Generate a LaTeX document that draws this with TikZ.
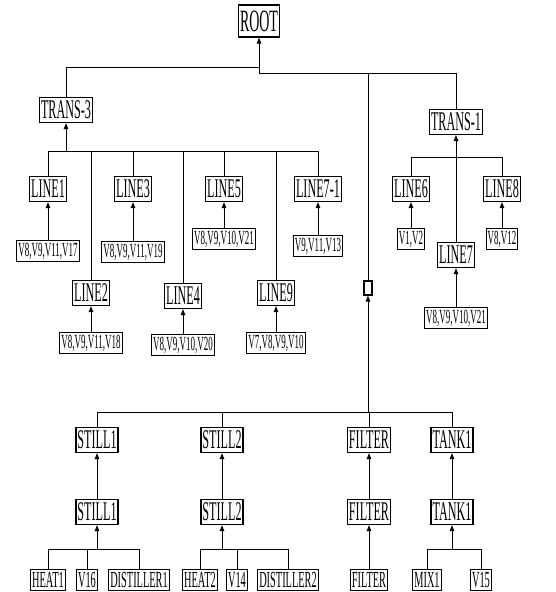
\documentclass[tikz,border=0pt]{standalone}
\usepackage{fontspec}
\setmainfont{Liberation Serif}[FakeStretch=0.45]
\usetikzlibrary{arrows.meta}

\tikzset{
  unit/.style={draw, line width=1.2pt, inner xsep=1.5pt, inner ysep=1pt,
               font=\fontsize{27}{27}\selectfont, minimum height=25pt},
  rootbox/.style={unit, font=\fontsize{31}{31}\selectfont, minimum height=32pt},
  varbox/.style={unit, font=\fontsize{20}{20}\selectfont, minimum height=21pt},
  leafbox/.style={unit, inner ysep=0.5pt, font=\fontsize{23}{23}\selectfont,
                  minimum height=21pt},
  wire/.style={line width=1pt},
  toarr/.style={wire, -{Triangle[length=6pt,width=4.5pt]}}
}

\begin{document}
\begin{tikzpicture}[x=1pt, y=-1pt]
  \useasboundingbox (0,0) rectangle (555,592);

  % --- racine et les deux transferts ------------------------------------
  \node[rootbox] (root) at (259,21) {ROOT};
  \node[unit] (trans3) at (66,110) {TRANS-3};
  \node[unit] (trans1) at (456,122) {TRANS-1};
  \coordinate (b0l) at (259,67);
  \coordinate (b0r) at (259,73);
  \draw[toarr] (b0r) -- (root);
  \draw[wire] (trans3.north) |- (b0l);
  \draw[wire] (trans1.north) |- (b0r);

  % --- lignes sous TRANS-3 ----------------------------------------------
  \node[unit] (line1)  at (48,189)  {LINE1};
  \node[unit] (line3)  at (133,189) {LINE3};
  \node[unit] (line5)  at (224,189) {LINE5};
  \node[unit] (line71) at (318,189) {LINE7-1};
  \node[unit] (line2)  at (91,293)  {LINE2};
  \node[unit] (line4)  at (183,296) {LINE4};
  \node[unit] (line9)  at (276,293) {LINE9};
  \coordinate (b3) at (66,151);
  \draw[toarr] (b3) -- (trans3);
  \foreach \n in {line1, line2, line3, line4, line5, line9, line71}
    \draw[wire] (\n.north) |- (b3);

  % --- variables des lignes ---------------------------------------------
  \node[varbox] (d1)  at (48,251)  {V8,V9,V11,V17};
  \node[varbox] (d3)  at (133,252) {V8,V9,V11,V19};
  \node[varbox] (d5)  at (224,239) {V8,V9,V10,V21};
  \node[varbox] (d71) at (318,246) {V9,V11,V13};
  \node[varbox] (d2)  at (91,343)  {V8,V9,V11,V18};
  \node[varbox] (d4)  at (183,345) {V8,V9,V10,V20};
  \node[varbox] (d9)  at (276,343) {V7,V8,V9,V10};
  \draw[toarr] (d1) -- (line1);
  \draw[toarr] (d3) -- (line3);
  \draw[toarr] (d5) -- (line5);
  \draw[toarr] (d71) -- (line71);
  \draw[toarr] (d2) -- (line2);
  \draw[toarr] (d4) -- (line4);
  \draw[toarr] (d9) -- (line9);

  % --- lignes sous TRANS-1 ----------------------------------------------
  \node[unit] (line6) at (411,189) {LINE6};
  \node[unit] (line8) at (502,189) {LINE8};
  \node[unit] (line7) at (456,255) {LINE7};
  \node[varbox] (d6) at (411,239) {V1,V2};
  \node[varbox] (d8) at (502,239) {V8,V12};
  \node[varbox] (d7) at (456,318) {V8,V9,V10,V21};
  \coordinate (b1) at (456,157);
  \draw[toarr] (b1) -- (trans1);
  \foreach \n in {line6, line7, line8}
    \draw[wire] (\n.north) |- (b1);
  \draw[toarr] (d6) -- (line6);
  \draw[toarr] (d8) -- (line8);
  \draw[toarr] (d7) -- (line7);

  % --- petit carre sur la branche des equipements -----------------------
  \node[draw, line width=1.2pt, minimum width=8pt, minimum height=14pt,
        inner sep=0pt] (sq) at (368,288) {};
  \draw[wire] (sq.north) |- (b0r);
  \coordinate (bb) at (368,412);
  \draw[toarr] (bb) -- (sq);

  % --- equipements ------------------------------------------------------
  \node[unit] (still1) at (97,440)  {STILL1};
  \node[unit] (still2) at (222,440) {STILL2};
  \node[unit] (filter) at (369,440) {FILTER};
  \node[unit] (tank1)  at (452,440) {TANK1};
  \foreach \n in {still1, still2, filter, tank1}
    \draw[wire] (\n.north) |- (bb);

  \node[unit] (still1b) at (97,512)  {STILL1};
  \node[unit] (still2b) at (222,512) {STILL2};
  \node[unit] (filterb) at (369,512) {FILTER};
  \node[unit] (tank1b)  at (452,512) {TANK1};
  \draw[toarr] (still1b) -- (still1);
  \draw[toarr] (still2b) -- (still2);
  \draw[toarr] (filterb) -- (filter);
  \draw[toarr] (tank1b) -- (tank1);

  % --- composants -------------------------------------------------------
  \node[leafbox] (heat1) at (48,580)  {HEAT1};
  \node[leafbox] (v16)   at (87,580)  {V16};
  \node[leafbox] (dist1) at (139,580) {DISTILLER1};
  \node[leafbox] (heat2) at (200,580) {HEAT2};
  \node[leafbox] (v14)   at (237,580) {V14};
  \node[leafbox] (dist2) at (288,580) {DISTILLER2};
  \node[leafbox] (filterc) at (369,580) {FILTER};
  \node[leafbox] (mix1)  at (427,580) {MIX1};
  \node[leafbox] (v15)   at (481,580) {V15};

  \coordinate (bs1) at (97,549);
  \coordinate (bs2) at (222,549);
  \coordinate (bt1) at (452,549);
  \draw[toarr] (bs1) -- (still1b);
  \draw[toarr] (bs2) -- (still2b);
  \draw[toarr] (bt1) -- (tank1b);
  \foreach \n in {heat1, v16, dist1}
    \draw[wire] (\n.north) |- (bs1);
  \foreach \n in {heat2, v14, dist2}
    \draw[wire] (\n.north) |- (bs2);
  \foreach \n in {mix1, v15}
    \draw[wire] (\n.north) |- (bt1);
  \draw[toarr] (filterc) -- (filterb);
\end{tikzpicture}
\end{document}
